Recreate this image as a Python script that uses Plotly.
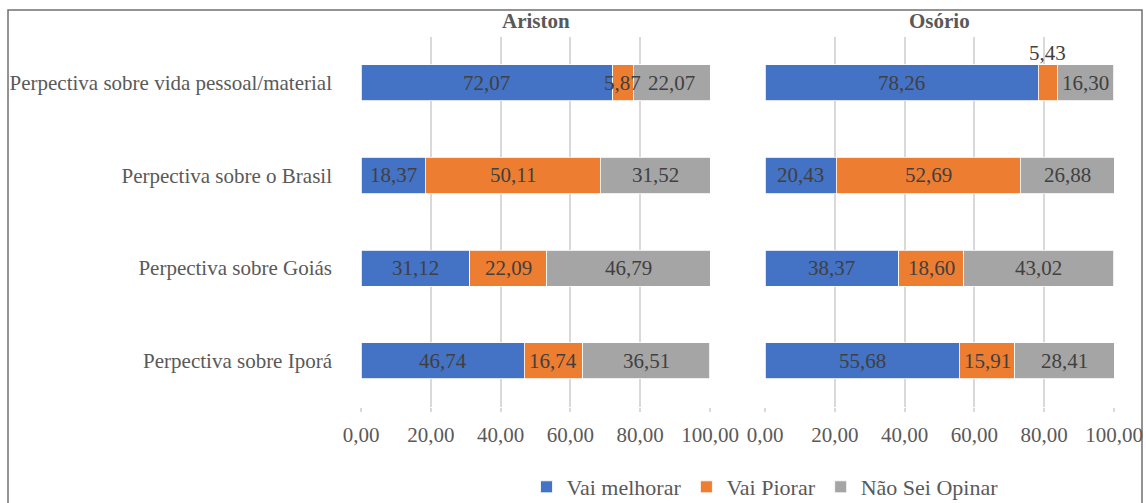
import plotly.graph_objects as go

# Categories (top to bottom) and series, per school
categories = [
    "Perpectiva sobre vida pessoal/material",
    "Perpectiva sobre o Brasil",
    "Perpectiva sobre Goiás",
    "Perpectiva sobre Iporá",
]
series_names = ["Vai melhorar", "Vai Piorar", "Não Sei Opinar"]
colors = ["#4472C4", "#ED7D31", "#A5A5A5"]

schools = ["Ariston", "Osório"]
ariston_melhorar = [72.07, 18.37, 31.12, 46.74]
ariston_piorar = [5.87, 50.11, 22.09, 16.74]
ariston_nao_sei = [22.07, 31.52, 46.79, 36.51]
osorio_melhorar = [78.26, 20.43, 38.37, 55.68]
osorio_piorar = [5.43, 52.69, 18.60, 15.91]
osorio_nao_sei = [16.30, 26.88, 43.02, 28.41]

x_ticks = [0, 20, 40, 60, 80, 100]

W, H = 1146, 503
FONT = "Liberation Serif"


def px_x(p):
    return p / W


def px_y(p):
    return 1 - p / H


panel_data = {
    "Ariston": [ariston_melhorar, ariston_piorar, ariston_nao_sei],
    "Osório": [osorio_melhorar, osorio_piorar, osorio_nao_sei],
}
axis_refs = {"Ariston": ("x", "y"), "Osório": ("x2", "y2")}
# labels drawn above their bar instead of centred inside it: (school, category index, series index)
labels_above = {("Osório", 0, 1)}

fig = go.Figure()
annotations = []

for si, school in enumerate(schools):
    xr, yr = axis_refs[school]
    series = panel_data[school]
    for k, (name, vals) in enumerate(zip(series_names, series)):
        fig.add_trace(go.Bar(
            x=vals, y=categories, orientation="h", name=name,
            marker=dict(color=colors[k], line=dict(color="white", width=0.8)),
            xaxis=xr, yaxis=yr, showlegend=(si == 0), legendgroup=name,
            hoverinfo="x+y+name",
        ))
    # value labels at the middle of each stacked segment
    for i, cat in enumerate(categories):
        start = 0.0
        for k in range(len(series_names)):
            v = series[k][i]
            above = (school, i, k) in labels_above
            annotations.append(dict(
                x=start + v / 2, y=cat, xref=xr, yref=yr,
                text=f"{v:.2f}".replace(".", ","), showarrow=False,
                yshift=30 if above else 0,
                font=dict(family=FONT, size=21, color="#404040"),
            ))
            start += v

# panel titles
for school, (x0, x1) in zip(schools, [(361, 710), (765, 1114)]):
    annotations.append(dict(
        x=px_x((x0 + x1) / 2), y=px_y(21), xref="paper", yref="paper",
        xanchor="center", yanchor="middle",
        text=f"<b>{school}</b>", showarrow=False,
        font=dict(family=FONT, size=21, color="#595959"),
    ))

xaxis_common = dict(
    range=[0, 100], tickvals=x_ticks, tickformat=".2f",
    showgrid=True, gridcolor="#d9d9d9", gridwidth=1.5,
    zeroline=False, showline=False,
    ticks="outside", ticklen=4, tickcolor="#d9d9d9", tickwidth=1.5,
    ticklabelstandoff=5, automargin=False,
    tickfont=dict(family=FONT, size=21, color="#595959"),
    fixedrange=True,
)
y_domain = [px_y(407), px_y(36.5)]

fig.update_layout(
    width=W, height=H,
    margin=dict(l=0, r=0, t=0, b=0, autoexpand=False),
    paper_bgcolor="white", plot_bgcolor="white",
    barmode="stack", bargap=0.61,
    separators=",.",
    font=dict(family=FONT, color="#595959"),
    xaxis=dict(domain=[px_x(361), px_x(710)], anchor="y", **xaxis_common),
    xaxis2=dict(domain=[px_x(765), px_x(1114)], anchor="y2", **xaxis_common),
    yaxis=dict(
        domain=y_domain, anchor="x", autorange="reversed",
        showgrid=False, ticks="", ticklabelstandoff=28, automargin=False,
        tickfont=dict(family=FONT, size=21, color="#595959"),
    ),
    yaxis2=dict(
        domain=y_domain, anchor="x2", autorange="reversed", automargin=False,
        showgrid=False, showticklabels=False, matches="y",
    ),
    legend=dict(
        orientation="h", x=px_x(765), xanchor="center",
        y=px_y(508), yanchor="bottom",
        font=dict(family=FONT, size=22, color="#595959"),
        tracegroupgap=0,
    ),
    annotations=annotations,
    shapes=[dict(
        type="rect", xref="paper", yref="paper",
        x0=px_x(8), x1=px_x(1142), y0=px_y(515), y1=px_y(10),
        line=dict(color="#707070", width=1.5), fillcolor="rgba(0,0,0,0)",
        layer="below",
    )],
)

fig.write_html("out.html")
